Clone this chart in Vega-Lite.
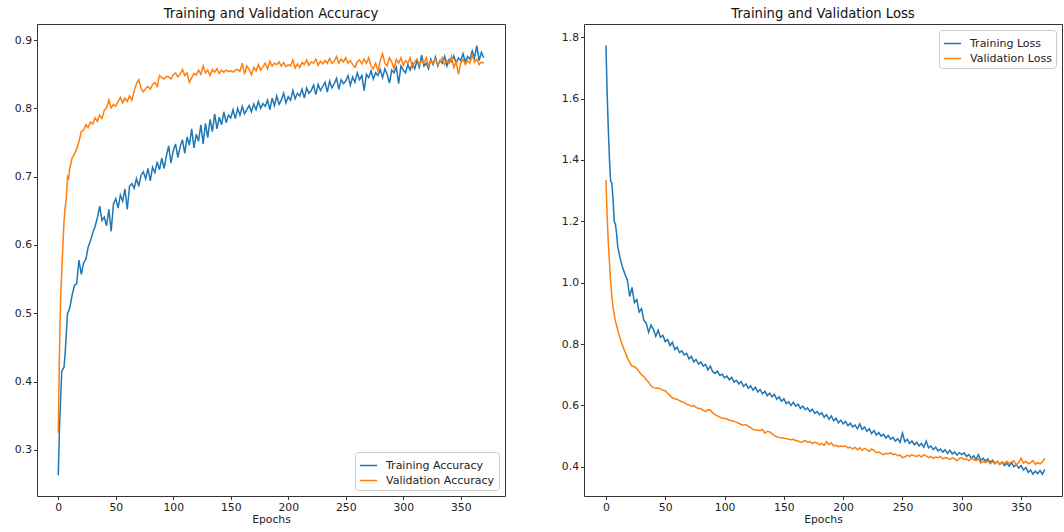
{
"$schema": "https://vega.github.io/schema/vega-lite/v6.json",
"autosize": {"type": "pad"},
"padding": {"left": 6, "top": 6, "right": 0, "bottom": 0},
"background": "white",
"config": {
 "font": "DejaVu Sans",
 "view": {"stroke": "#333", "strokeWidth": 1},
 "axis": {"grid": false, "domain": false, "tickColor": "#333", "tickSize": 3.5, "labelFontSize": 10.8, "labelColor": "#222", "titleFontSize": 10.8, "titleFontWeight": "normal", "titleColor": "#222", "labelPadding": 2, "titlePadding": 1},
 "title": {"fontSize": 13.2, "fontWeight": "normal", "color": "#111", "offset": 3},
 "legend": {"fillColor": "white", "strokeColor": "#ccc", "cornerRadius": 3, "padding": 4, "symbolType": "stroke", "symbolStrokeWidth": 1.5, "symbolSize": 300, "labelFontSize": 11, "labelColor": "#222", "rowPadding": 0, "labelOffset": 8, "offset": 6}
},
"data": {"values": [
{"epoch":0,"ta":0.263,"va":0.325,"tl":1.773,"vl":1.335},
{"epoch":1,"ta":0.330,"va":0.440,"tl":1.620,"vl":1.220},
{"epoch":2,"ta":0.372,"va":0.520,"tl":1.500,"vl":1.130},
{"epoch":3,"ta":0.415,"va":0.560,"tl":1.400,"vl":1.065},
{"epoch":4,"ta":0.418,"va":0.598,"tl":1.330,"vl":1.000},
{"epoch":5,"ta":0.421,"va":0.635,"tl":1.325,"vl":0.955},
{"epoch":6,"ta":0.442,"va":0.655,"tl":1.270,"vl":0.920},
{"epoch":7,"ta":0.470,"va":0.668,"tl":1.200,"vl":0.895},
{"epoch":8,"ta":0.500,"va":0.700,"tl":1.190,"vl":0.875},
{"epoch":9,"ta":0.503,"va":0.697,"tl":1.160,"vl":0.860},
{"epoch":10,"ta":0.508,"va":0.712,"tl":1.115,"vl":0.845},
{"epoch":12,"ta":0.526,"va":0.727,"tl":1.080,"vl":0.818},
{"epoch":14,"ta":0.541,"va":0.733,"tl":1.050,"vl":0.795},
{"epoch":16,"ta":0.543,"va":0.741,"tl":1.028,"vl":0.776},
{"epoch":18,"ta":0.578,"va":0.751,"tl":1.010,"vl":0.756},
{"epoch":20,"ta":0.557,"va":0.766,"tl":0.955,"vl":0.740},
{"epoch":22,"ta":0.574,"va":0.768,"tl":0.985,"vl":0.728},
{"epoch":24,"ta":0.579,"va":0.776,"tl":0.935,"vl":0.726},
{"epoch":26,"ta":0.597,"va":0.772,"tl":0.945,"vl":0.720},
{"epoch":28,"ta":0.606,"va":0.780,"tl":0.905,"vl":0.710},
{"epoch":30,"ta":0.618,"va":0.777,"tl":0.915,"vl":0.700},
{"epoch":32,"ta":0.627,"va":0.786,"tl":0.878,"vl":0.694},
{"epoch":34,"ta":0.640,"va":0.781,"tl":0.868,"vl":0.684},
{"epoch":36,"ta":0.657,"va":0.790,"tl":0.838,"vl":0.676},
{"epoch":38,"ta":0.636,"va":0.785,"tl":0.862,"vl":0.664},
{"epoch":40,"ta":0.641,"va":0.797,"tl":0.848,"vl":0.658},
{"epoch":42,"ta":0.628,"va":0.801,"tl":0.825,"vl":0.656},
{"epoch":44,"ta":0.652,"va":0.812,"tl":0.845,"vl":0.657},
{"epoch":46,"ta":0.620,"va":0.801,"tl":0.822,"vl":0.654},
{"epoch":48,"ta":0.660,"va":0.806,"tl":0.828,"vl":0.650},
{"epoch":50,"ta":0.668,"va":0.803,"tl":0.808,"vl":0.648},
{"epoch":52,"ta":0.654,"va":0.810,"tl":0.815,"vl":0.640},
{"epoch":54,"ta":0.673,"va":0.816,"tl":0.795,"vl":0.632},
{"epoch":56,"ta":0.664,"va":0.808,"tl":0.806,"vl":0.624},
{"epoch":58,"ta":0.682,"va":0.815,"tl":0.782,"vl":0.622},
{"epoch":60,"ta":0.652,"va":0.810,"tl":0.790,"vl":0.620},
{"epoch":62,"ta":0.686,"va":0.818,"tl":0.772,"vl":0.616},
{"epoch":64,"ta":0.690,"va":0.812,"tl":0.778,"vl":0.612},
{"epoch":66,"ta":0.683,"va":0.826,"tl":0.765,"vl":0.610},
{"epoch":68,"ta":0.697,"va":0.836,"tl":0.770,"vl":0.604},
{"epoch":70,"ta":0.686,"va":0.842,"tl":0.752,"vl":0.602},
{"epoch":72,"ta":0.702,"va":0.829,"tl":0.760,"vl":0.598},
{"epoch":74,"ta":0.707,"va":0.824,"tl":0.742,"vl":0.600},
{"epoch":76,"ta":0.697,"va":0.829,"tl":0.750,"vl":0.594},
{"epoch":78,"ta":0.712,"va":0.832,"tl":0.735,"vl":0.590},
{"epoch":80,"ta":0.694,"va":0.828,"tl":0.742,"vl":0.590},
{"epoch":82,"ta":0.714,"va":0.835,"tl":0.728,"vl":0.584},
{"epoch":84,"ta":0.706,"va":0.838,"tl":0.734,"vl":0.580},
{"epoch":86,"ta":0.722,"va":0.832,"tl":0.716,"vl":0.586},
{"epoch":88,"ta":0.710,"va":0.848,"tl":0.728,"vl":0.585},
{"epoch":90,"ta":0.727,"va":0.845,"tl":0.710,"vl":0.576},
{"epoch":92,"ta":0.712,"va":0.843,"tl":0.704,"vl":0.570},
{"epoch":94,"ta":0.730,"va":0.847,"tl":0.712,"vl":0.566},
{"epoch":96,"ta":0.745,"va":0.846,"tl":0.698,"vl":0.562},
{"epoch":98,"ta":0.720,"va":0.843,"tl":0.702,"vl":0.558},
{"epoch":100,"ta":0.738,"va":0.849,"tl":0.690,"vl":0.558},
{"epoch":102,"ta":0.748,"va":0.852,"tl":0.696,"vl":0.556},
{"epoch":104,"ta":0.728,"va":0.846,"tl":0.684,"vl":0.552},
{"epoch":106,"ta":0.744,"va":0.850,"tl":0.692,"vl":0.550},
{"epoch":108,"ta":0.754,"va":0.857,"tl":0.676,"vl":0.548},
{"epoch":110,"ta":0.734,"va":0.848,"tl":0.682,"vl":0.545},
{"epoch":112,"ta":0.758,"va":0.852,"tl":0.670,"vl":0.542},
{"epoch":114,"ta":0.746,"va":0.838,"tl":0.678,"vl":0.538},
{"epoch":116,"ta":0.770,"va":0.845,"tl":0.662,"vl":0.536},
{"epoch":118,"ta":0.742,"va":0.851,"tl":0.670,"vl":0.538},
{"epoch":120,"ta":0.762,"va":0.849,"tl":0.656,"vl":0.532},
{"epoch":122,"ta":0.752,"va":0.856,"tl":0.664,"vl":0.528},
{"epoch":124,"ta":0.776,"va":0.850,"tl":0.650,"vl":0.522},
{"epoch":126,"ta":0.748,"va":0.862,"tl":0.660,"vl":0.520},
{"epoch":128,"ta":0.778,"va":0.852,"tl":0.644,"vl":0.520},
{"epoch":130,"ta":0.757,"va":0.856,"tl":0.652,"vl":0.518},
{"epoch":132,"ta":0.784,"va":0.848,"tl":0.638,"vl":0.522},
{"epoch":134,"ta":0.766,"va":0.857,"tl":0.646,"vl":0.510},
{"epoch":136,"ta":0.792,"va":0.853,"tl":0.632,"vl":0.516},
{"epoch":138,"ta":0.770,"va":0.858,"tl":0.640,"vl":0.514},
{"epoch":140,"ta":0.787,"va":0.851,"tl":0.628,"vl":0.508},
{"epoch":142,"ta":0.776,"va":0.856,"tl":0.636,"vl":0.502},
{"epoch":144,"ta":0.795,"va":0.853,"tl":0.620,"vl":0.498},
{"epoch":146,"ta":0.779,"va":0.856,"tl":0.628,"vl":0.496},
{"epoch":148,"ta":0.790,"va":0.854,"tl":0.614,"vl":0.494},
{"epoch":150,"ta":0.786,"va":0.855,"tl":0.622,"vl":0.494},
{"epoch":152,"ta":0.798,"va":0.853,"tl":0.606,"vl":0.492},
{"epoch":154,"ta":0.785,"va":0.856,"tl":0.612,"vl":0.490},
{"epoch":156,"ta":0.800,"va":0.857,"tl":0.600,"vl":0.488},
{"epoch":158,"ta":0.790,"va":0.854,"tl":0.610,"vl":0.490},
{"epoch":160,"ta":0.803,"va":0.866,"tl":0.598,"vl":0.486},
{"epoch":162,"ta":0.792,"va":0.850,"tl":0.604,"vl":0.484},
{"epoch":164,"ta":0.798,"va":0.862,"tl":0.590,"vl":0.480},
{"epoch":166,"ta":0.804,"va":0.857,"tl":0.598,"vl":0.482},
{"epoch":168,"ta":0.795,"va":0.849,"tl":0.586,"vl":0.486},
{"epoch":170,"ta":0.806,"va":0.860,"tl":0.592,"vl":0.480},
{"epoch":172,"ta":0.798,"va":0.855,"tl":0.580,"vl":0.482},
{"epoch":174,"ta":0.810,"va":0.864,"tl":0.588,"vl":0.476},
{"epoch":176,"ta":0.800,"va":0.856,"tl":0.574,"vl":0.480},
{"epoch":178,"ta":0.807,"va":0.861,"tl":0.580,"vl":0.478},
{"epoch":180,"ta":0.803,"va":0.866,"tl":0.570,"vl":0.472},
{"epoch":182,"ta":0.812,"va":0.858,"tl":0.576,"vl":0.476},
{"epoch":184,"ta":0.798,"va":0.869,"tl":0.562,"vl":0.470},
{"epoch":186,"ta":0.815,"va":0.862,"tl":0.570,"vl":0.482},
{"epoch":188,"ta":0.804,"va":0.866,"tl":0.555,"vl":0.472},
{"epoch":190,"ta":0.818,"va":0.864,"tl":0.566,"vl":0.478},
{"epoch":192,"ta":0.806,"va":0.868,"tl":0.550,"vl":0.468},
{"epoch":194,"ta":0.812,"va":0.862,"tl":0.558,"vl":0.470},
{"epoch":196,"ta":0.822,"va":0.867,"tl":0.544,"vl":0.466},
{"epoch":198,"ta":0.808,"va":0.861,"tl":0.552,"vl":0.468},
{"epoch":200,"ta":0.817,"va":0.864,"tl":0.540,"vl":0.466},
{"epoch":202,"ta":0.812,"va":0.862,"tl":0.548,"vl":0.468},
{"epoch":204,"ta":0.826,"va":0.871,"tl":0.534,"vl":0.462},
{"epoch":206,"ta":0.814,"va":0.859,"tl":0.542,"vl":0.464},
{"epoch":208,"ta":0.822,"va":0.865,"tl":0.530,"vl":0.458},
{"epoch":210,"ta":0.818,"va":0.860,"tl":0.536,"vl":0.464},
{"epoch":212,"ta":0.828,"va":0.867,"tl":0.524,"vl":0.456},
{"epoch":214,"ta":0.815,"va":0.864,"tl":0.540,"vl":0.462},
{"epoch":216,"ta":0.830,"va":0.871,"tl":0.522,"vl":0.454},
{"epoch":218,"ta":0.822,"va":0.863,"tl":0.530,"vl":0.460},
{"epoch":220,"ta":0.826,"va":0.868,"tl":0.516,"vl":0.456},
{"epoch":222,"ta":0.834,"va":0.866,"tl":0.524,"vl":0.450},
{"epoch":224,"ta":0.820,"va":0.872,"tl":0.508,"vl":0.458},
{"epoch":226,"ta":0.835,"va":0.863,"tl":0.518,"vl":0.454},
{"epoch":228,"ta":0.826,"va":0.869,"tl":0.504,"vl":0.446},
{"epoch":230,"ta":0.832,"va":0.865,"tl":0.512,"vl":0.448},
{"epoch":232,"ta":0.838,"va":0.870,"tl":0.500,"vl":0.444},
{"epoch":234,"ta":0.824,"va":0.866,"tl":0.506,"vl":0.440},
{"epoch":236,"ta":0.840,"va":0.873,"tl":0.494,"vl":0.444},
{"epoch":238,"ta":0.830,"va":0.866,"tl":0.502,"vl":0.442},
{"epoch":240,"ta":0.836,"va":0.869,"tl":0.490,"vl":0.446},
{"epoch":242,"ta":0.844,"va":0.876,"tl":0.496,"vl":0.440},
{"epoch":244,"ta":0.828,"va":0.866,"tl":0.484,"vl":0.442},
{"epoch":246,"ta":0.842,"va":0.872,"tl":0.492,"vl":0.436},
{"epoch":248,"ta":0.836,"va":0.868,"tl":0.480,"vl":0.438},
{"epoch":250,"ta":0.840,"va":0.874,"tl":0.510,"vl":0.430},
{"epoch":252,"ta":0.848,"va":0.866,"tl":0.482,"vl":0.432},
{"epoch":254,"ta":0.834,"va":0.870,"tl":0.490,"vl":0.438},
{"epoch":256,"ta":0.846,"va":0.864,"tl":0.476,"vl":0.434},
{"epoch":258,"ta":0.838,"va":0.860,"tl":0.484,"vl":0.440},
{"epoch":260,"ta":0.852,"va":0.868,"tl":0.472,"vl":0.436},
{"epoch":262,"ta":0.842,"va":0.871,"tl":0.480,"vl":0.434},
{"epoch":264,"ta":0.848,"va":0.865,"tl":0.468,"vl":0.438},
{"epoch":266,"ta":0.826,"va":0.872,"tl":0.476,"vl":0.432},
{"epoch":268,"ta":0.850,"va":0.866,"tl":0.464,"vl":0.440},
{"epoch":270,"ta":0.845,"va":0.874,"tl":0.484,"vl":0.436},
{"epoch":272,"ta":0.855,"va":0.862,"tl":0.462,"vl":0.430},
{"epoch":274,"ta":0.843,"va":0.858,"tl":0.468,"vl":0.434},
{"epoch":276,"ta":0.852,"va":0.866,"tl":0.456,"vl":0.428},
{"epoch":278,"ta":0.848,"va":0.855,"tl":0.464,"vl":0.432},
{"epoch":280,"ta":0.857,"va":0.870,"tl":0.452,"vl":0.430},
{"epoch":282,"ta":0.845,"va":0.880,"tl":0.458,"vl":0.434},
{"epoch":284,"ta":0.858,"va":0.866,"tl":0.448,"vl":0.426},
{"epoch":286,"ta":0.850,"va":0.862,"tl":0.456,"vl":0.430},
{"epoch":288,"ta":0.837,"va":0.874,"tl":0.444,"vl":0.428},
{"epoch":290,"ta":0.856,"va":0.868,"tl":0.454,"vl":0.424},
{"epoch":292,"ta":0.852,"va":0.858,"tl":0.442,"vl":0.430},
{"epoch":294,"ta":0.860,"va":0.872,"tl":0.448,"vl":0.426},
{"epoch":296,"ta":0.836,"va":0.866,"tl":0.438,"vl":0.420},
{"epoch":298,"ta":0.862,"va":0.874,"tl":0.446,"vl":0.428},
{"epoch":300,"ta":0.856,"va":0.863,"tl":0.440,"vl":0.430},
{"epoch":302,"ta":0.852,"va":0.870,"tl":0.446,"vl":0.424},
{"epoch":304,"ta":0.864,"va":0.866,"tl":0.434,"vl":0.426},
{"epoch":306,"ta":0.856,"va":0.874,"tl":0.440,"vl":0.420},
{"epoch":308,"ta":0.866,"va":0.860,"tl":0.428,"vl":0.428},
{"epoch":310,"ta":0.858,"va":0.868,"tl":0.436,"vl":0.424},
{"epoch":312,"ta":0.870,"va":0.872,"tl":0.424,"vl":0.420},
{"epoch":314,"ta":0.860,"va":0.864,"tl":0.440,"vl":0.426},
{"epoch":316,"ta":0.878,"va":0.870,"tl":0.420,"vl":0.412},
{"epoch":318,"ta":0.862,"va":0.866,"tl":0.428,"vl":0.418},
{"epoch":320,"ta":0.866,"va":0.874,"tl":0.418,"vl":0.414},
{"epoch":322,"ta":0.858,"va":0.862,"tl":0.426,"vl":0.420},
{"epoch":324,"ta":0.872,"va":0.870,"tl":0.414,"vl":0.410},
{"epoch":326,"ta":0.864,"va":0.866,"tl":0.422,"vl":0.416},
{"epoch":328,"ta":0.875,"va":0.872,"tl":0.410,"vl":0.412},
{"epoch":330,"ta":0.862,"va":0.864,"tl":0.418,"vl":0.418},
{"epoch":332,"ta":0.870,"va":0.868,"tl":0.408,"vl":0.408},
{"epoch":334,"ta":0.866,"va":0.874,"tl":0.416,"vl":0.414},
{"epoch":336,"ta":0.876,"va":0.864,"tl":0.404,"vl":0.412},
{"epoch":338,"ta":0.862,"va":0.870,"tl":0.412,"vl":0.418},
{"epoch":340,"ta":0.872,"va":0.866,"tl":0.402,"vl":0.410},
{"epoch":342,"ta":0.868,"va":0.876,"tl":0.414,"vl":0.416},
{"epoch":344,"ta":0.877,"va":0.860,"tl":0.400,"vl":0.420},
{"epoch":346,"ta":0.866,"va":0.868,"tl":0.408,"vl":0.406},
{"epoch":348,"ta":0.874,"va":0.850,"tl":0.396,"vl":0.414},
{"epoch":350,"ta":0.870,"va":0.866,"tl":0.404,"vl":0.428},
{"epoch":352,"ta":0.880,"va":0.872,"tl":0.390,"vl":0.412},
{"epoch":354,"ta":0.868,"va":0.864,"tl":0.398,"vl":0.418},
{"epoch":356,"ta":0.876,"va":0.870,"tl":0.382,"vl":0.410},
{"epoch":358,"ta":0.872,"va":0.866,"tl":0.390,"vl":0.414},
{"epoch":360,"ta":0.884,"va":0.878,"tl":0.376,"vl":0.420},
{"epoch":362,"ta":0.874,"va":0.868,"tl":0.386,"vl":0.408},
{"epoch":364,"ta":0.892,"va":0.872,"tl":0.378,"vl":0.414},
{"epoch":366,"ta":0.870,"va":0.864,"tl":0.388,"vl":0.410},
{"epoch":368,"ta":0.882,"va":0.868,"tl":0.376,"vl":0.416},
{"epoch":370,"ta":0.874,"va":0.866,"tl":0.392,"vl":0.428}
]},
"spacing": 47,
"resolve": {"scale": {"color": "independent", "y": "independent", "x": "independent"}, "legend": {"color": "independent"}},
"hconcat": [
 {
  "title": "Training and Validation Accuracy",
  "width": 468, "height": 472,
  "transform": [{"fold": ["ta", "va"], "as": ["series", "value"]}],
  "mark": {"type": "line", "strokeWidth": 1.5},
  "encoding": {
   "x": {"field": "epoch", "type": "quantitative", "scale": {"domain": [-18.5, 388.5], "nice": false, "zero": false}, "axis": {"title": "Epochs", "values": [0, 50, 100, 150, 200, 250, 300, 350]}},
   "y": {"field": "value", "type": "quantitative", "scale": {"domain": [0.2325, 0.9235], "nice": false, "zero": false}, "axis": {"title": null, "values": [0.3, 0.4, 0.5, 0.6, 0.7, 0.8, 0.9], "format": ".1f", "minExtent": 30, "maxExtent": 30}},
   "color": {"field": "series", "type": "nominal", "scale": {"domain": ["ta", "va"], "range": ["#1f77b4", "#ff7f0e"]}, "legend": {"orient": "bottom-right", "title": null, "labelExpr": "datum.label == 'ta' ? 'Training Accuracy' : 'Validation Accuracy'"}}
  }
 },
 {
  "title": "Training and Validation Loss",
  "width": 478, "height": 472,
  "transform": [{"fold": ["tl", "vl"], "as": ["series", "value"]}],
  "mark": {"type": "line", "strokeWidth": 1.5},
  "encoding": {
   "x": {"field": "epoch", "type": "quantitative", "scale": {"domain": [-18.5, 384.5], "nice": false, "zero": false}, "axis": {"title": "Epochs", "values": [0, 50, 100, 150, 200, 250, 300, 350]}},
   "y": {"field": "value", "type": "quantitative", "scale": {"domain": [0.305, 1.843], "nice": false, "zero": false}, "axis": {"title": null, "values": [0.4, 0.6, 0.8, 1.0, 1.2, 1.4, 1.6, 1.8], "format": ".1f", "minExtent": 30, "maxExtent": 30}},
   "color": {"field": "series", "type": "nominal", "scale": {"domain": ["tl", "vl"], "range": ["#1f77b4", "#ff7f0e"]}, "legend": {"orient": "top-right", "title": null, "labelExpr": "datum.label == 'tl' ? 'Training Loss' : 'Validation Loss'"}}
  }
 }
]
}
